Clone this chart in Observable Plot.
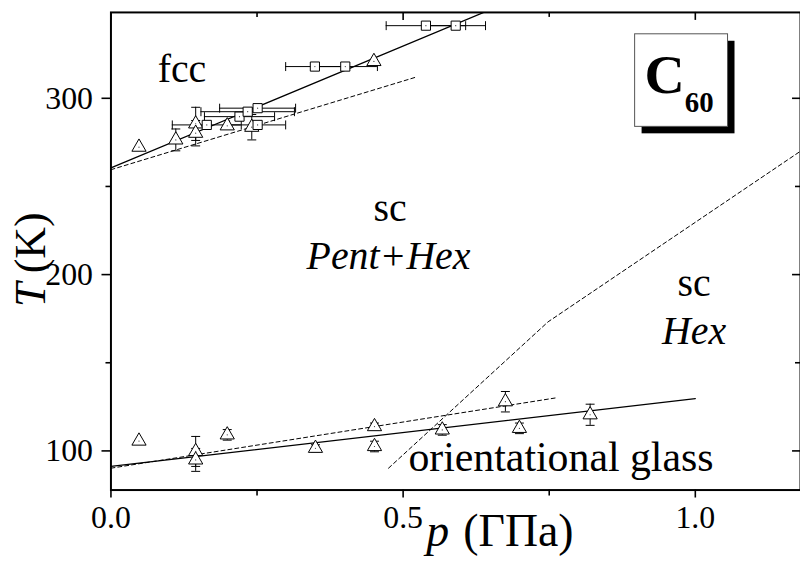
<!DOCTYPE html>
<html>
<head>
<meta charset="utf-8">
<script src="https://cdn.jsdelivr.net/npm/d3@7"></script>
<script src="https://cdn.jsdelivr.net/npm/@observablehq/plot@0.6"></script>
<style>
  html, body { margin: 0; padding: 0; background: #fff; }
  #chart { width: 800px; height: 565px; overflow: hidden; }
  #chart svg, #chart svg text { font-family: "Liberation Serif", "Times New Roman", serif; }
</style>
</head>
<body>
<div id="chart"></div>
<script>
// Phase diagram of C60: transition temperature T (K) against pressure p (GPa)

// fcc -> sc transition, triangles (p in GPa, T in K, dT vertical error)
const fccTriangles = [
  {p: 0.048, T: 272.3, dT: 0},
  {p: 0.111, T: 276.4, dT: 6.2},
  {p: 0.145, T: 285.5, dT: 9.4},
  {p: 0.145, T: 280.2, dT: 7.2},
  {p: 0.199, T: 284.4, dT: 0},
  {p: 0.241, T: 283.6, dT: 7.2},
  {p: 0.450, T: 320.9, dT: 0}
];

// fcc -> sc transition, squares (dp horizontal error)
const fccSquares = [
  {p: 0.164, T: 284.9, dp: 0.059},
  {p: 0.220, T: 289.6, dp: 0.060},
  {p: 0.234, T: 292.4, dp: 0.080},
  {p: 0.251, T: 294.4, dp: 0.065},
  {p: 0.251, T: 284.9, dp: 0.048},
  {p: 0.349, T: 318.0, dp: 0.050},
  {p: 0.401, T: 318.0, dp: 0.055},
  {p: 0.539, T: 341.2, dp: 0.068},
  {p: 0.590, T: 341.2, dp: 0.051}
];

// glass transition, triangles
const glassTriangles = [
  {p: 0.048, T: 105.6, dT: 0},
  {p: 0.145, T: 99.7, dT: 8.5},
  {p: 0.145, T: 94.9, dT: 6.5},
  {p: 0.199, T: 109.1, dT: 3},
  {p: 0.350, T: 101.5, dT: 2},
  {p: 0.451, T: 113.8, dT: 2},
  {p: 0.451, T: 102.5, dT: 3},
  {p: 0.567, T: 111.9, dT: 3},
  {p: 0.675, T: 127.9, dT: 5.8},
  {p: 0.699, T: 112.8, dT: 3},
  {p: 0.820, T: 120.5, dT: 6}
];

// phase boundaries
const fccBoundary = [{p: 0, T: 260.5}, {p: 0.64, T: 349.0}];
const fccBoundaryDashed = [{p: 0, T: 259.5}, {p: 0.52, T: 311.8}];
const glassBoundary = [{p: 0, T: 91.2}, {p: 1.0, T: 129.7}];
const glassBoundaryDashed = [{p: 0, T: 90.2}, {p: 0.76, T: 130.0}];
const hexBoundary = [{p: 0.475, T: 90.2}, {p: 0.748, T: 173.2}, {p: 1.18, T: 270.0}];

// axis ticks
const xMajor = [0, 0.5, 1.0];
const xMinor = [0.25, 0.75];
const yMajor = [100, 200, 300];
const yMinor = [150, 250];

const serif = "\"Liberation Serif\", \"Times New Roman\", serif";
const frameW = 693, frameH = 480;

// short strokes used as error-bar caps
const hCap = {draw(ctx) { ctx.moveTo(-4.5, 0); ctx.lineTo(4.5, 0); }};
const vCap = {draw(ctx) { ctx.moveTo(0, -4.5); ctx.lineTo(0, 4.5); }};

const withDT = d => d.dT > 0;
const allTriangles = fccTriangles.concat(glassTriangles);
const txt = {fill: "black", fontFamily: serif, lineAnchor: "bottom"};

const chart = Plot.plot({
  width: 804,
  height: 565,
  marginLeft: 111,
  marginRight: 0,
  marginTop: 12,
  marginBottom: 73,
  style: {fontFamily: serif, fontSize: "32px", color: "black", background: "white"},
  x: {domain: [0, 1.18], axis: null},
  y: {domain: [77.8, 348.7], axis: null},
  marks: [
    // boundaries
    Plot.line(fccBoundary, {x: "p", y: "T", stroke: "black", strokeWidth: 1.3, clip: true}),
    Plot.line(fccBoundaryDashed, {x: "p", y: "T", stroke: "black", strokeWidth: 1, strokeDasharray: "4,3"}),
    Plot.line(glassBoundary, {x: "p", y: "T", stroke: "black", strokeWidth: 1.3}),
    Plot.line(glassBoundaryDashed, {x: "p", y: "T", stroke: "black", strokeWidth: 1, strokeDasharray: "4,3"}),
    Plot.line(hexBoundary, {x: "p", y: "T", stroke: "black", strokeWidth: 1, strokeDasharray: "4,3", clip: true}),

    // vertical error bars
    Plot.ruleX(allTriangles.filter(withDT), {x: "p", y1: d => d.T - d.dT, y2: d => d.T + d.dT, stroke: "black", strokeWidth: 1}),
    Plot.dot(allTriangles.filter(withDT), {x: "p", y: d => d.T - d.dT, symbol: hCap, stroke: "black", fill: "none", strokeWidth: 1}),
    Plot.dot(allTriangles.filter(withDT), {x: "p", y: d => d.T + d.dT, symbol: hCap, stroke: "black", fill: "none", strokeWidth: 1}),

    // horizontal error bars
    Plot.ruleY(fccSquares, {y: "T", x1: d => d.p - d.dp, x2: d => d.p + d.dp, stroke: "black", strokeWidth: 1}),
    Plot.dot(fccSquares, {x: d => d.p - d.dp, y: "T", symbol: vCap, stroke: "black", fill: "none", strokeWidth: 1}),
    Plot.dot(fccSquares, {x: d => d.p + d.dp, y: "T", symbol: vCap, stroke: "black", fill: "none", strokeWidth: 1}),

    // markers
    Plot.dot(allTriangles, {x: "p", y: "T", symbol: "triangle", r: 5.3, stroke: "black", fill: "white", strokeWidth: 1}),
    Plot.dot(fccSquares, {x: "p", y: "T", symbol: "square", r: 5.2, stroke: "black", fill: "white", strokeWidth: 1}),
    Plot.dot(allTriangles.concat(fccSquares), {x: "p", y: "T", r: 0.6, fill: "#333", stroke: null}),

    // frame and ticks
    Plot.frame({stroke: "black", strokeWidth: 2}),
    Plot.axisX(xMajor, {tickSize: 8, tickPadding: 7, tickFormat: d3.format(".1f"), strokeWidth: 1.6, fontSize: 32, fontFamily: serif, label: null}),
    Plot.ruleX(xMinor, {insetTop: frameH, insetBottom: -6, stroke: "black", strokeWidth: 1.6}),
    Plot.ruleX(xMajor, {insetBottom: frameH - 8, stroke: "black", strokeWidth: 1.6}),
    Plot.ruleX(xMinor, {insetBottom: frameH - 5, stroke: "black", strokeWidth: 1.6}),
    Plot.axisY(yMajor, {tickSize: 9, tickPadding: 9, strokeWidth: 1.6, fontSize: 32, fontFamily: serif, label: null}),
    Plot.ruleY(yMinor, {insetLeft: -5, insetRight: frameW, stroke: "black", strokeWidth: 1.6}),
    Plot.ruleY(yMajor, {insetLeft: frameW - 8, stroke: "black", strokeWidth: 1.6}),
    Plot.ruleY(yMinor, {insetLeft: frameW - 5, stroke: "black", strokeWidth: 1.6}),

    // axis titles
    Plot.text(["T"], {...txt, frameAnchor: "top-left", dx: -66, dy: 296, rotate: -90, textAnchor: "start", fontSize: 44, fontStyle: "italic"}),
    Plot.text(["(K)"], {...txt, frameAnchor: "top-left", dx: -66, dy: 201, rotate: -90, textAnchor: "end", fontSize: 44}),
    Plot.text(["p"], {...txt, frameAnchor: "bottom-left", dx: 317, dy: 56, textAnchor: "start", fontSize: 46, fontStyle: "italic"}),
    Plot.text(["(ΓΠa)"], {...txt, frameAnchor: "bottom-left", dx: 354, dy: 56, textAnchor: "start", fontSize: 46}),

    // phase labels
    Plot.text(["fcc"], {...txt, x: 0.080, y: 309.2, textAnchor: "start", fontSize: 40}),
    Plot.text(["sc"], {...txt, x: 0.4776, y: 230.2, textAnchor: "middle", fontSize: 40}),
    Plot.text(["Pent+Hex"], {...txt, x: 0.475, y: 203.1, textAnchor: "middle", fontSize: 40, fontStyle: "italic"}),
    Plot.text(["sc"], {...txt, x: 0.998, y: 187.9, textAnchor: "middle", fontSize: 40}),
    Plot.text(["Hex"], {...txt, x: 0.998, y: 160.8, textAnchor: "middle", fontSize: 40, fontStyle: "italic"}),
    Plot.text(["orientational glass"], {...txt, x: 0.509, y: 88.5, textAnchor: "start", fontSize: 42}),

    // C60 badge with drop shadow
    Plot.rect([0], {x1: 0.897, x2: 1.056, y1: 283.8, y2: 336.3, dx: 7, dy: 7, fill: "black"}),
    Plot.rect([0], {x1: 0.897, x2: 1.056, y1: 283.8, y2: 336.3, fill: "white", stroke: "#555", strokeWidth: 1}),
    Plot.text(["C"], {...txt, x: 0.913, y: 302.8, textAnchor: "start", fontSize: 56, fontWeight: "bold"}),
    Plot.text(["60"], {...txt, x: 0.982, y: 292.1, textAnchor: "start", fontSize: 29, fontWeight: "bold"})
  ]
});

document.getElementById("chart").appendChild(chart);
</script>
</body>
</html>
